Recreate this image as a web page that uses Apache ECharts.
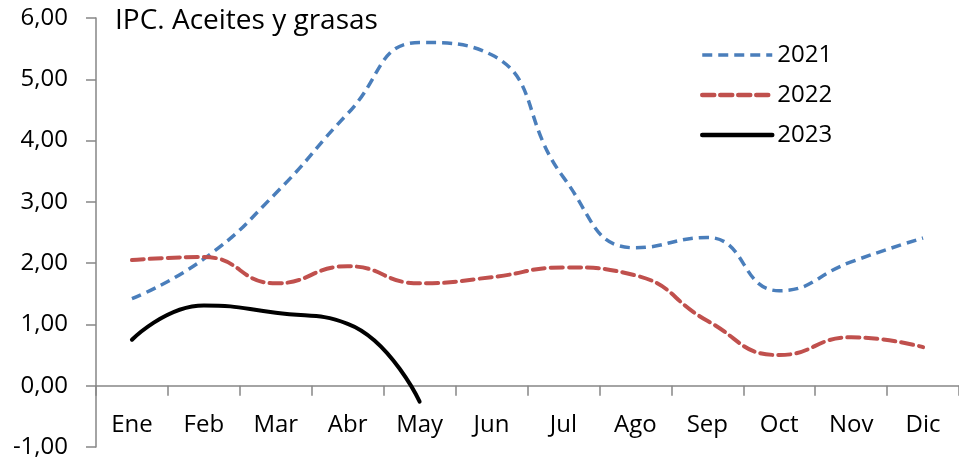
<!DOCTYPE html>
<html>
<head>
<meta charset="utf-8">
<script src="https://cdn.jsdelivr.net/npm/echarts@6/dist/echarts.min.js"></script>
<style>
  html, body { margin: 0; padding: 0; background: #fff; }
  #chart { width: 959px; height: 458px; }
</style>
</head>
<body>
<div id="chart"></div>
<script>
var months = ['Ene', 'Feb', 'Mar', 'Abr', 'May', 'Jun', 'Jul', 'Ago', 'Sep', 'Oct', 'Nov', 'Dic'];
var values2021 = [1.42, 2.07, 3.14, 4.44, 5.60, 5.40, 3.40, 2.25, 2.42, 1.55, 2.02, 2.41];
var values2022 = [2.05, 2.10, 1.67, 1.95, 1.67, 1.77, 1.93, 1.80, 1.06, 0.50, 0.79, 0.63];
var values2023 = [0.75, 1.31, 1.19, 1.01, -0.26];
var yTicks = [-1, 0, 1, 2, 3, 4, 5, 6];

var font = 'Open Sans';
var blue = '#4A7EBB', red = '#C0504D';
var chart = echarts.init(document.getElementById('chart'));

chart.setOption({
  backgroundColor: '#fff',
  animation: false,
  title: {
    text: 'IPC. Aceites y grasas',
    left: 110,
    top: 2,
    textStyle: { fontFamily: font, fontSize: 28, fontWeight: 'normal', color: '#000' }
  },
  legend: {
    orient: 'vertical',
    left: 695,
    top: 38,
    itemWidth: 70,
    itemHeight: 14,
    itemGap: 16,
    itemStyle: { opacity: 0 },
    textStyle: { fontFamily: font, fontSize: 24, color: '#000' },
    data: [
      { name: '2021', lineStyle: { color: blue, width: 3.5, type: [10, 6] } },
      { name: '2022', lineStyle: { color: red, width: 4.5, type: [12, 6], cap: 'round' } },
      { name: '2023', lineStyle: { color: '#000', width: 4.5, cap: 'round' } }
    ]
  },
  grid: { left: 96, right: 0, top: 18, bottom: 11, containLabel: false, outerBoundsMode: 'none' },
  xAxis: {
    type: 'category',
    data: months,
    boundaryGap: true,
    axisLine: { onZero: true, lineStyle: { color: '#868686', width: 1.5 } },
    axisTick: { show: true, length: 10, lineStyle: { color: '#868686', width: 1.5 } },
    // labels stay at the grid bottom, so pull them up under the zero line
    axisLabel: { margin: -34, fontFamily: font, fontSize: 24, color: '#000' },
    splitLine: { show: false }
  },
  yAxis: {
    type: 'value',
    min: yTicks[0],
    max: yTicks[yTicks.length - 1],
    interval: 1,
    axisLine: { show: true, lineStyle: { color: '#868686', width: 1.5 } },
    axisTick: { show: true, length: 10, lineStyle: { color: '#868686', width: 1.5 } },
    axisLabel: {
      margin: 28,
      fontFamily: font,
      fontSize: 24,
      color: '#000',
      formatter: function (v) { return v.toFixed(2).replace('.', ','); }
    },
    splitLine: { show: false }
  },
  series: [
    {
      name: '2021',
      type: 'line',
      data: values2021,
      smooth: 0.5,
      symbol: 'none',
      lineStyle: { color: blue, width: 3.5, type: [10, 6] },
      itemStyle: { color: blue }
    },
    {
      name: '2022',
      type: 'line',
      data: values2022,
      smooth: 0.5,
      symbol: 'none',
      lineStyle: { color: red, width: 4, type: [12, 6], cap: 'round' },
      itemStyle: { color: red }
    },
    {
      name: '2023',
      type: 'line',
      data: values2023,
      smooth: 0.5,
      symbol: 'none',
      lineStyle: { color: '#000', width: 4, cap: 'round' },
      itemStyle: { color: '#000' }
    }
  ]
});
</script>
</body>
</html>
